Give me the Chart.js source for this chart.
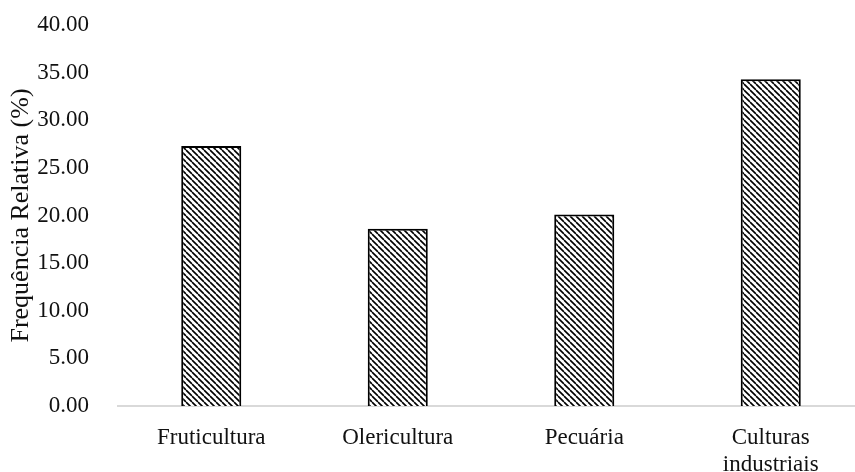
<!DOCTYPE html>
<html>
<head>
<meta charset="utf-8">
<script src="https://cdn.jsdelivr.net/npm/chart.js@4"></script>
<style>
    body { margin: 0; background: #fff; overflow: hidden; }
    #wrap { width: 866px; height: 472px; position: relative; }
</style>
</head>
<body>
<div id="wrap"><canvas id="freqChart"></canvas></div>
<script>
const categories = ['Fruticultura', 'Olericultura', 'Pecuária', ['Culturas', 'industriais']];
const frequencies = [27.3, 18.6, 20.1, 34.3];
const yTicks = [0, 5, 10, 15, 20, 25, 30, 35, 40];

// diagonal hatch fill like the original
function makeHatch() {
    const c = document.createElement('canvas');
    c.width = 6;
    c.height = 6;
    const g = c.getContext('2d');
    g.fillStyle = '#fff';
    g.fillRect(0, 0, 6, 6);
    g.strokeStyle = '#000';
    g.lineWidth = 1.6;
    g.beginPath();
    [-6, 0, 6].forEach(k => {
        g.moveTo(k, 0);
        g.lineTo(k + 6, 6);
    });
    g.stroke();
    return g.createPattern(c, 'repeat');
}

const family = '"Liberation Serif", "Times New Roman", serif';
const font = { family: family, size: 23 };

const ctx = document.getElementById('freqChart').getContext('2d');
new Chart(ctx, {
    type: 'bar',
    data: {
        labels: categories,
        datasets: [{
            label: 'Frequência Relativa (%)',
            data: frequencies,
            backgroundColor: makeHatch(),
            borderColor: '#000',
            borderWidth: 2,
            borderSkipped: 'bottom',
            barPercentage: 0.322,
            categoryPercentage: 1
        }]
    },
    options: {
        responsive: true,
        maintainAspectRatio: false,
        animation: false,
        layout: { padding: { top: 25, right: 2, left: 6, bottom: 0 } },
        plugins: {
            legend: { display: false },
            tooltip: { enabled: false }
        },
        scales: {
            x: {
                grid: { display: false, drawTicks: false },
                border: { display: true, color: '#d9d9d9', width: 2 },
                ticks: { color: '#111', font: font, padding: 18, maxRotation: 0 },
                afterFit: s => {
                    s.height = 66;
                    s.paddingLeft = 0;
                    s.paddingRight = 0;
                }
            },
            y: {
                min: 0,
                max: 40,
                afterBuildTicks: s => { s.ticks = yTicks.map(v => ({ value: v })); },
                grid: { display: false, drawTicks: false },
                border: { display: false },
                ticks: {
                    color: '#111',
                    font: font,
                    padding: 29,
                    callback: v => Number(v).toFixed(2)
                },
                title: {
                    display: true,
                    text: 'Frequência Relativa (%)',
                    color: '#111',
                    font: { family: family, size: 26 },
                    padding: 0
                },
                afterFit: s => {
                    s.width = 112;
                    s.paddingTop = 0;
                    s.paddingBottom = 0;
                }
            }
        }
    }
});
</script>
</body>
</html>
